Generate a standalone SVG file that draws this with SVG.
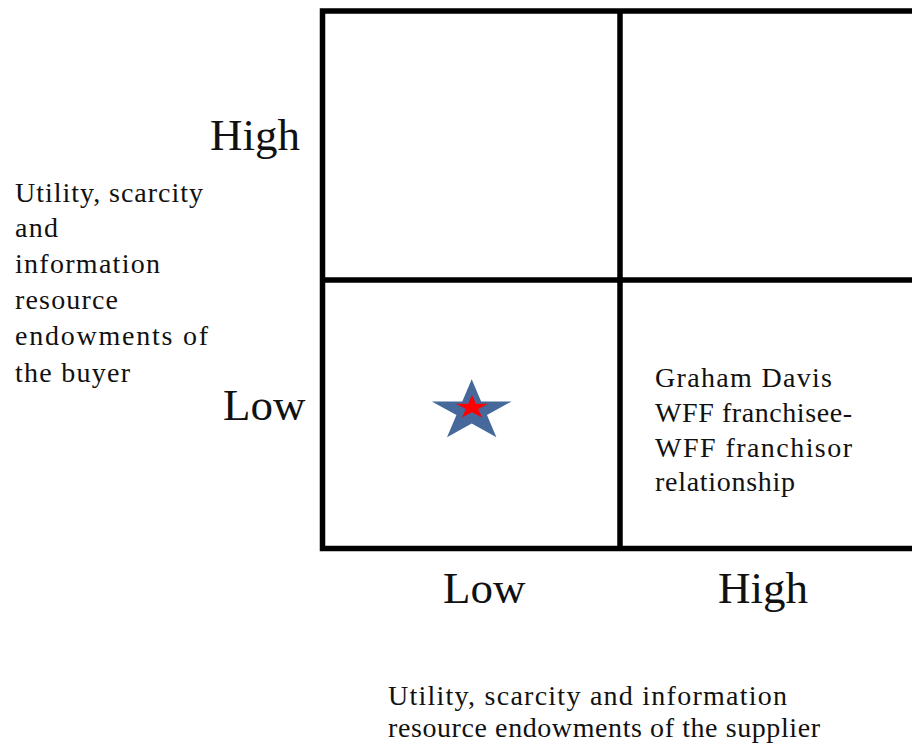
<svg xmlns="http://www.w3.org/2000/svg" width="912" height="748" viewBox="0 0 912 748">
  <style>
    .grid { fill: none; stroke: #000; stroke-width: 5.5; }
    .axis { font-family: "Liberation Serif", "Times New Roman", serif; font-size: 45px; fill: #111; }
    .label { font-family: "Liberation Serif", "Times New Roman", serif; font-size: 28px; fill: #111; }
  </style>
  <rect width="912" height="748" fill="#fff"/>

  <!-- 2x2 matrix frame -->
  <g id="matrix">
    <rect class="grid" x="322.5" y="11" width="640" height="537.5"/>
    <line class="grid" x1="620" y1="11" x2="620" y2="548.5"/>
    <line class="grid" x1="322.5" y1="280" x2="912" y2="280"/>
  </g>

  <!-- vertical axis: buyer -->
  <g id="y-axis">
    <text class="axis" x="210" y="150">High</text>
    <text class="axis" x="223" y="420">Low</text>
    <text class="label" x="15" y="201.5" textLength="188" lengthAdjust="spacing">Utility, scarcity</text>
    <text class="label" x="15" y="237" textLength="43" lengthAdjust="spacing">and</text>
    <text class="label" x="15" y="273" textLength="145" lengthAdjust="spacing">information</text>
    <text class="label" x="15" y="308.5" textLength="103" lengthAdjust="spacing">resource</text>
    <text class="label" x="15" y="345" textLength="193" lengthAdjust="spacing">endowments of</text>
    <text class="label" x="15" y="381.5" textLength="115" lengthAdjust="spacing">the buyer</text>
  </g>

  <!-- horizontal axis: supplier -->
  <g id="x-axis">
    <text class="axis" x="443" y="603">Low</text>
    <text class="axis" x="718" y="603">High</text>
    <text class="label" x="388" y="705" textLength="399" lengthAdjust="spacing">Utility, scarcity and information</text>
    <text class="label" x="388" y="737" textLength="432" lengthAdjust="spacing">resource endowments of the supplier</text>
  </g>

  <!-- low buyer / high supplier cell -->
  <g id="cell-low-high">
    <text class="label" x="655" y="387" textLength="177" lengthAdjust="spacing">Graham Davis</text>
    <text class="label" x="655" y="422" textLength="197" lengthAdjust="spacing">WFF franchisee-</text>
    <text class="label" x="655" y="457" textLength="197" lengthAdjust="spacing">WFF franchisor</text>
    <text class="label" x="655" y="491" textLength="140" lengthAdjust="spacing">relationship</text>
  </g>

  <!-- position marker in low/low cell -->
  <g id="star">
    <polygon transform="translate(471.7 411.3) scale(42 32)" fill="#46689a"
      points="0,-1 0.2245,-0.309 0.951,-0.309 0.3633,0.118 0.5878,0.809 0,0.382 -0.5878,0.809 -0.3633,0.118 -0.951,-0.309 -0.2245,-0.309"/>
    <polygon transform="translate(472 407.5) scale(17 12.5)" fill="#ff0000"
      points="0,-1 0.2245,-0.309 0.951,-0.309 0.3633,0.118 0.5878,0.809 0,0.382 -0.5878,0.809 -0.3633,0.118 -0.951,-0.309 -0.2245,-0.309"/>
  </g>
</svg>
